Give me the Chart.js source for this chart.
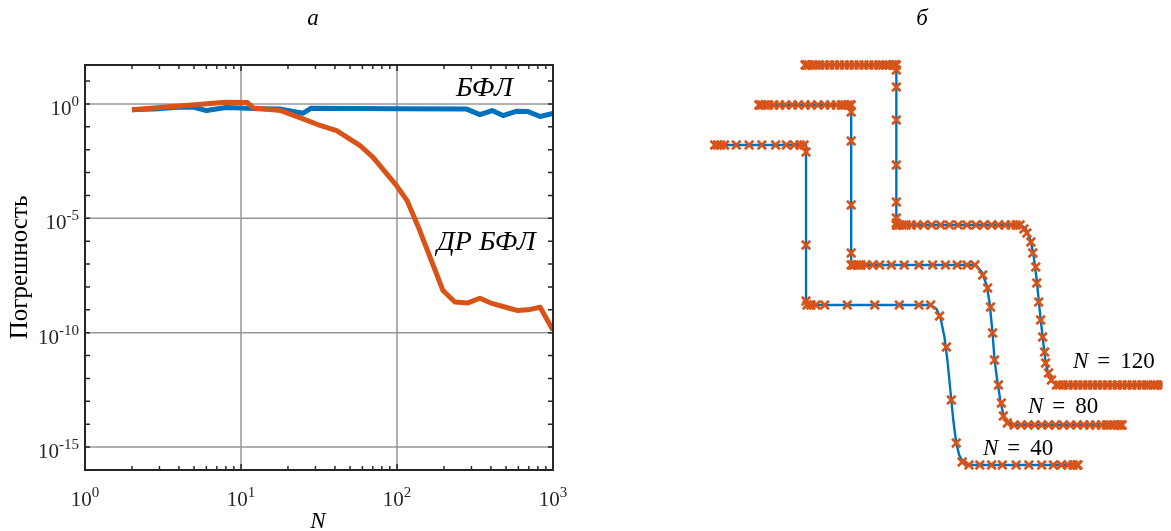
<!DOCTYPE html>
<html>
<head>
<meta charset="utf-8">
<script src="https://cdn.jsdelivr.net/npm/chart.js@4.4.1/dist/chart.umd.min.js"></script>
<style>
  html, body { margin: 0; padding: 0; background: #fff; }
  #wrap { position: relative; width: 1171px; height: 531px; overflow: hidden; }
  canvas { position: absolute; left: 0; top: 0; }
</style>
</head>
<body>
<div id="wrap">
  <canvas id="chartA" width="1171" height="531"></canvas>
  <canvas id="chartB" width="1171" height="531"></canvas>
</div>
<script>
// ---- панель а: погрешность от N ----
const nBFL = [2, 3, 4, 5, 6, 8, 10, 13, 18, 25, 28, 100, 280, 340, 407, 478, 587, 692, 828, 1000];
const errBFL = [0.56, 0.62, 0.72, 0.71, 0.51, 0.69, 0.66, 0.62, 0.59, 0.39, 0.64, 0.62, 0.59, 0.34, 0.51, 0.31, 0.48, 0.46, 0.28, 0.38];

const nDR = [2, 8, 11, 12, 18, 25, 31, 41, 58, 70, 97, 116, 140, 197, 235, 285, 340, 406, 478, 587, 692, 828, 1000];
const errDR = [0.56, 1.17, 1.14, 0.66, 0.51, 0.22, 0.125, 0.068, 0.015, 0.0047, 3.3e-4, 6e-5, 2.9e-6,
               7e-9, 2.2e-9, 2.0e-9, 3.2e-9, 1.9e-9, 1.4e-9, 9.4e-10, 1.0e-9, 1.3e-9, 1.26e-10];

const xLabelTicks = [1, 10, 100, 1000];
const xLabelExp = ['0', '1', '2', '3'];
const yLabelTicks = [1, 1e-5, 1e-10, 1e-15];
const yLabelExp = ['0', '-5', '-10', '-15'];

// ---- панель б: три ступенчатые кривые ----
const lineX40 = [0, 9.3, 9.3, 22.0, 22.6, 23.0, 23.4, 23.7, 24.0, 24.3, 24.6, 24.9, 25.3, 25.8, 37.0];
const lineY40 = [32, 32, 16, 16, 15.6, 14.7, 12.8, 10.5, 7.5, 4.5, 2.2, 1.0, 0.3, 0, 0];
const lineX80 = [4.5, 13.9, 13.9, 26.6, 27.2, 27.7, 28.0, 28.3, 28.5, 28.8, 29.1, 29.4, 29.8, 30.4, 41.6];
const lineY80 = [36, 36, 20, 20, 19.3, 18.0, 16.2, 13.2, 10.5, 8.3, 6.4, 5.0, 4.3, 4, 4];
const lineX120 = [9.2, 18.5, 18.5, 31.2, 31.7, 32.2, 32.5, 32.8, 33.1, 33.4, 33.7, 34.0, 34.4, 35.0, 46.2];
const lineY120 = [40, 40, 24, 24, 23.6, 22.4, 20.8, 18.5, 15.5, 12.8, 10.3, 9.0, 8.3, 8.0, 8];

const markX40 = [0, 0.3, 0.6, 1.0, 2.2, 3.5, 4.8, 6.2, 7.3, 8.1, 8.7, 9.1, 9.3,
                 9.3, 9.3,
                 9.4, 9.8, 10.3, 11.2, 13.5, 16.3, 18.8, 20.8, 22.0,
                 22.9, 23.6, 24.1, 24.6, 25.2, 25.9,
                 27.0, 28.2, 29.3, 30.7, 32.0, 33.3, 34.5, 35.3, 36.0, 36.5, 36.9, 37.0];
const markY40 = [32, 32, 32, 32, 32, 32, 32, 32, 32, 32, 32, 32, 31.3,
                 22.0, 16.4,
                 16, 16, 16, 16, 16, 16, 16, 16, 16,
                 14.9, 11.8, 6.5, 2.2, 0.3, 0,
                 0, 0, 0, 0, 0, 0, 0, 0, 0, 0, 0, 0];

const markX80 = [4.5, 4.6, 4.8, 5.1, 5.5, 6.0, 6.6, 7.2, 7.9, 8.5, 9.2, 9.8, 10.5, 11.2, 11.8, 12.4, 12.9, 13.3, 13.6, 13.8, 13.9,
                 13.9, 13.9, 13.9, 13.9, 13.9,
                 14.0, 14.2, 14.5, 14.9, 15.4, 16.1, 16.8, 18.0, 19.3, 20.8, 22.2, 23.5, 24.7, 25.7, 26.5,
                 27.3, 27.8, 28.1, 28.3, 28.5, 28.9, 29.2, 29.4, 29.8,
                 30.5, 31.2, 31.9, 32.6, 33.3, 34.0, 34.7, 35.5, 36.2, 36.9, 37.6, 38.2, 38.8, 39.4, 39.9, 40.3, 40.7, 41.0, 41.2, 41.4, 41.5];
const markY80 = [36, 36, 36, 36, 36, 36, 36, 36, 36, 36, 36, 36, 36, 36, 36, 36, 36, 36, 36, 36, 36,
                 35.3, 32.4, 26.0, 21.2, 20.0,
                 20, 20, 20, 20, 20, 20, 20, 20, 20, 20, 20, 20, 20, 20, 20,
                 19.0, 17.7, 15.8, 13.2, 10.5, 8.0, 6.2, 4.9, 4.2,
                 4, 4, 4, 4, 4, 4, 4, 4, 4, 4, 4, 4, 4, 4, 4, 4, 4, 4, 4, 4, 4];

const markX120 = [9.2, 9.3, 9.4, 9.6, 9.9, 10.3, 10.7, 11.2, 11.7, 12.2, 12.7, 13.2, 13.7, 14.2, 14.7, 15.2, 15.7, 16.2, 16.7, 17.1, 17.5, 17.8, 18.1, 18.3, 18.4, 18.5,
                  18.5, 18.5, 18.5, 18.5, 18.5, 18.5, 18.5,
                  18.5, 18.6, 18.8, 19.1, 19.5, 20.0, 20.6, 21.3, 22.1, 23.0, 23.9, 24.8, 25.7, 26.6, 27.4, 28.2, 28.9, 29.6, 30.2, 30.7, 31.1,
                  31.5, 31.8, 32.2, 32.4, 32.7, 32.8, 33.0, 33.2, 33.4, 33.6, 33.7, 34.0, 34.3, 34.8,
                  35.1, 35.5, 36.0, 36.5, 37.0, 37.5, 38.0, 38.5, 39.0, 39.5, 40.0, 40.5, 41.0, 41.5, 42.0, 42.5, 43.0, 43.5, 44.0, 44.4, 44.8, 45.1, 45.4, 45.6, 45.8];
const markY120 = [40, 40, 40, 40, 40, 40, 40, 40, 40, 40, 40, 40, 40, 40, 40, 40, 40, 40, 40, 40, 40, 40, 40, 40, 40, 40,
                  39.5, 37.8, 34.5, 30.0, 26.3, 24.7, 24.2,
                  24, 24, 24, 24, 24, 24, 24, 24, 24, 24, 24, 24, 24, 24, 24, 24, 24, 24, 24, 24, 24,
                  23.6, 23.2, 22.3, 21.2, 19.8, 18.2, 16.3, 14.5, 12.8, 11.3, 10.2, 9.2, 8.5, 8.0,
                  8, 8, 8, 8, 8, 8, 8, 8, 8, 8, 8, 8, 8, 8, 8, 8, 8, 8, 8, 8, 8, 8, 8, 8, 8];

const BLUE = '#0072BD';
const ORANGE = '#D95319';
const SERIF = '"Liberation Serif", "Times New Roman", serif';

const toPoints = (xs, ys) => xs.map((x, i) => ({ x: x, y: ys[i] }));

// подпись вида 10^k
function drawPow(ctx, exp, x, y, align) {
  ctx.font = '21px ' + SERIF;
  const w1 = ctx.measureText('10').width;
  ctx.font = '15px ' + SERIF;
  const w2 = ctx.measureText(exp).width;
  const x0 = align === 'right' ? x - w1 - w2 : x - (w1 + w2) / 2;
  ctx.textAlign = 'left';
  ctx.textBaseline = 'alphabetic';
  ctx.font = '21px ' + SERIF;
  ctx.fillText('10', x0, y);
  ctx.font = '15px ' + SERIF;
  ctx.fillText(exp, x0 + w1, y - 9);
}

const axesA = {
  id: 'axesA',
  beforeDatasetsDraw(chart) {
    const { ctx, chartArea: a, scales: { x, y } } = chart;
    ctx.save();
    ctx.strokeStyle = '#969696';
    ctx.lineWidth = 1.5;
    ctx.beginPath();
    [10, 100].forEach(v => {
      const px = x.getPixelForValue(v);
      ctx.moveTo(px, a.top); ctx.lineTo(px, a.bottom);
    });
    yLabelTicks.forEach(v => {
      const py = y.getPixelForValue(v);
      ctx.moveTo(a.left, py); ctx.lineTo(a.right, py);
    });
    ctx.stroke();
    ctx.restore();
  },
  afterDatasetsDraw(chart) {
    const { ctx, chartArea: a, scales: { x, y } } = chart;
    ctx.save();
    ctx.strokeStyle = '#262626';
    ctx.lineWidth = 2;
    ctx.strokeRect(a.left, a.top, a.right - a.left, a.bottom - a.top);
    ctx.lineWidth = 1.5;
    ctx.beginPath();
    // x: деления на каждой декаде и промежуточные
    [1, 10, 100].forEach(d => {
      for (let k = 1; k <= 9; k++) {
        const px = x.getPixelForValue(d * k);
        const len = k === 1 ? 6 : 4;
        ctx.moveTo(px, a.bottom); ctx.lineTo(px, a.bottom - len);
        ctx.moveTo(px, a.top); ctx.lineTo(px, a.top + len);
      }
    });
    // y: деления на каждой декаде
    for (let e = -16; e <= 1; e++) {
      const py = y.getPixelForValue(Math.pow(10, e));
      ctx.moveTo(a.left, py); ctx.lineTo(a.left + 5, py);
      ctx.moveTo(a.right, py); ctx.lineTo(a.right - 5, py);
    }
    ctx.stroke();

    ctx.fillStyle = '#262626';
    xLabelTicks.forEach((v, i) => drawPow(ctx, xLabelExp[i], x.getPixelForValue(v), 506, 'center'));
    yLabelTicks.forEach((v, i) => drawPow(ctx, yLabelExp[i], a.left - 6, y.getPixelForValue(v) + 11, 'right'));

    ctx.fillStyle = '#000';
    ctx.textAlign = 'center';
    ctx.textBaseline = 'alphabetic';
    ctx.font = 'italic 23px ' + SERIF;
    ctx.fillText('N', 318, 528);
    ctx.fillText('а', 313, 25);
    ctx.font = 'italic 28px ' + SERIF;
    ctx.textAlign = 'left';
    ctx.fillText('БФЛ', 456, 96);
    ctx.fillText('ДР БФЛ', 437, 250);

    ctx.save();
    ctx.translate(27, (a.top + a.bottom) / 2);
    ctx.rotate(-Math.PI / 2);
    ctx.textAlign = 'center';
    ctx.font = '25px ' + SERIF;
    ctx.fillText('Погрешность', 0, 0);
    ctx.restore();
    ctx.restore();
  }
};

new Chart(document.getElementById('chartA'), {
  type: 'line',
  data: {
    datasets: [
      { label: 'ДР БФЛ', data: toPoints(nDR, errDR), borderColor: ORANGE, borderWidth: 5,
        pointRadius: 0, borderJoinStyle: 'round', tension: 0, order: 0 },
      { label: 'БФЛ', data: toPoints(nBFL, errBFL), borderColor: BLUE, borderWidth: 5,
        pointRadius: 0, borderJoinStyle: 'round', tension: 0, order: 1 }
    ]
  },
  options: {
    responsive: false,
    animation: false,
    events: [],
    layout: { padding: { left: 85, right: 618, top: 65, bottom: 61 } },
    plugins: { legend: { display: false }, tooltip: { enabled: false } },
    scales: {
      x: { type: 'logarithmic', min: 1, max: 1000, display: false },
      y: { type: 'logarithmic', min: 1e-16, max: 50, display: false }
    }
  },
  plugins: [axesA]
});

const labelsB = {
  id: 'labelsB',
  afterDatasetsDraw(chart) {
    const ctx = chart.ctx;
    ctx.save();
    ctx.fillStyle = '#000';
    ctx.textBaseline = 'alphabetic';
    ctx.textAlign = 'center';
    ctx.font = 'italic 23px ' + SERIF;
    ctx.fillText('б', 922, 25);
    [['120', 1073, 368], ['80', 1028, 413], ['40', 983, 455]].forEach(([n, x0, y0]) => {
      ctx.textAlign = 'left';
      ctx.font = 'italic 23px ' + SERIF;
      const wN = ctx.measureText('N').width;
      ctx.fillText('N', x0, y0);
      ctx.font = '23px ' + SERIF;
      const xEq = x0 + wN + 9;
      ctx.fillText('=', xEq, y0);
      ctx.fillText(n, xEq + ctx.measureText('=').width + 10, y0);
    });
    ctx.restore();
  }
};

const markerSet = (xs, ys) => ({
  data: toPoints(xs, ys), showLine: false, pointStyle: 'crossRot', pointRadius: 6,
  pointBorderWidth: 2.6, pointBorderColor: ORANGE, pointBackgroundColor: ORANGE, order: 0
});
const lineSet = (xs, ys) => ({
  data: toPoints(xs, ys), borderColor: BLUE, borderWidth: 2.4, pointRadius: 0, tension: 0, order: 1
});

new Chart(document.getElementById('chartB'), {
  type: 'line',
  data: {
    datasets: [
      markerSet(markX40, markY40), markerSet(markX80, markY80), markerSet(markX120, markY120),
      lineSet(lineX40, lineY40), lineSet(lineX80, lineY80), lineSet(lineX120, lineY120)
    ]
  },
  options: {
    responsive: false,
    animation: false,
    events: [],
    layout: { padding: { left: 700, right: 0, top: 50, bottom: 51 } },
    plugins: { legend: { display: false }, tooltip: { enabled: false } },
    scales: {
      x: { type: 'linear', min: -1.5, max: 45.6, display: false },
      y: { type: 'linear', min: -1.5, max: 41.5, display: false }
    }
  },
  plugins: [labelsB]
});
</script>
</body>
</html>
